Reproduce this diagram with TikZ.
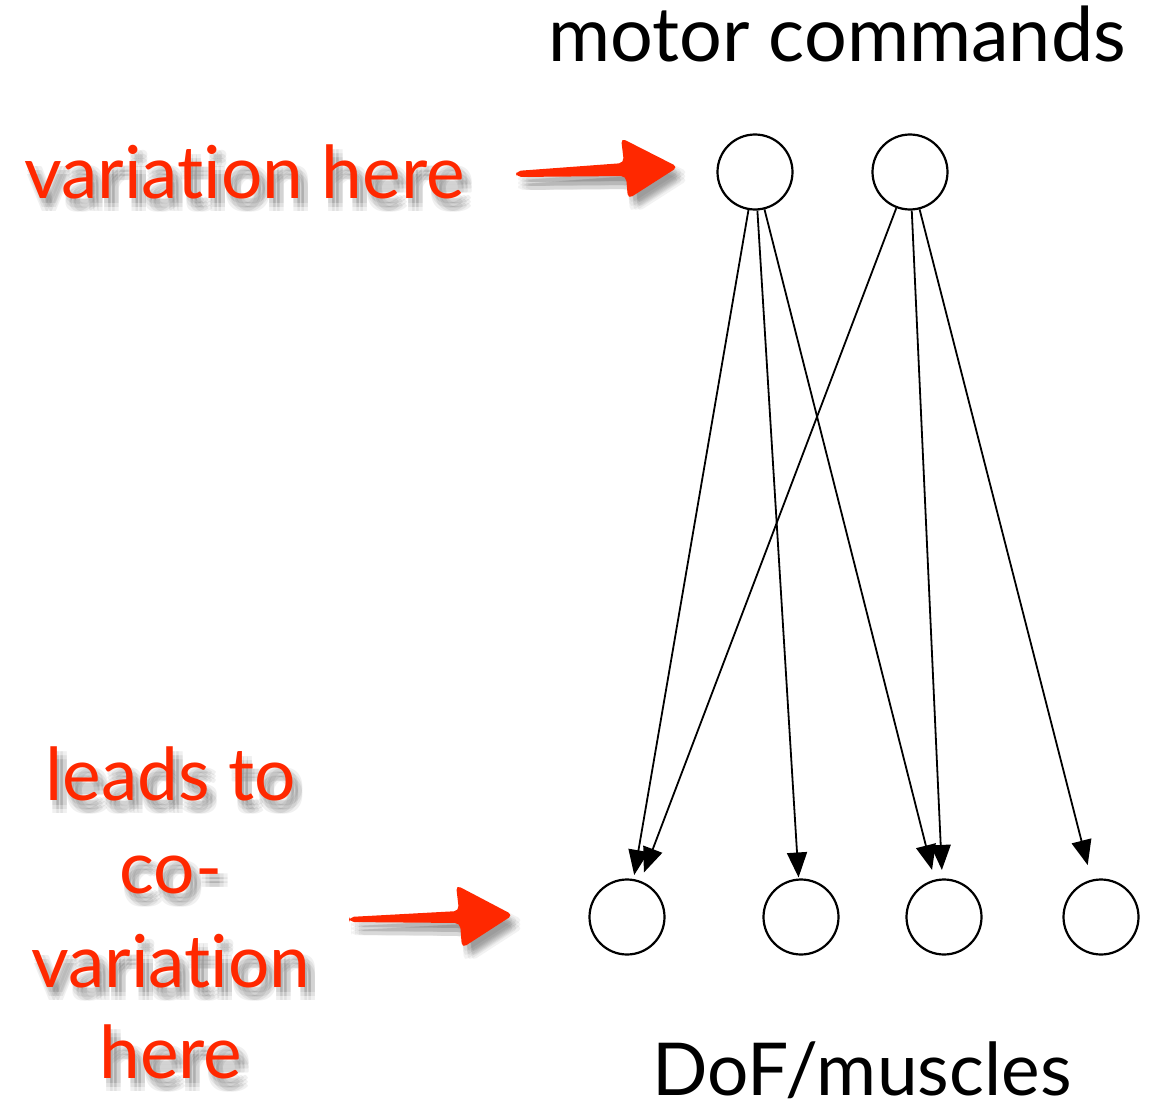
\documentclass[tikz,border=0pt]{standalone}
\usepackage{fontspec}
\setmainfont{Lato}[Ligatures=NoCommon]
\usetikzlibrary{arrows.meta,calc}
\definecolor{brushred}{RGB}{255,40,0}
\newcommand\shadowlabel[3]{%
  \foreach \dx in {2,6,10}{\foreach \dy in {5,9,13}{
    \node[shadowtxt] (#1-\dx-\dy) at ($(#2)+(\dx,\dy)$) {#3};}}
  \node[redtxt] (#1) at (#2) {#3};}
\begin{document}
\begin{tikzpicture}[x=1pt,y=-1pt,
  state/.style={circle,draw,line width=2.2pt,minimum size=75pt,inner sep=0pt},
  edge/.style={line width=1.8pt,-{Triangle[length=25pt,width=20pt]}},
  blacktxt/.style={font=\fontsize{73}{73}\selectfont,anchor=base,inner sep=0pt},
  redtxt/.style={blacktxt,text=brushred},
  shadowtxt/.style={blacktxt,text=black,text opacity=0.06},
  brush/.style={fill=brushred,rounded corners=5pt},
  brushshadow/.style={fill=black,fill opacity=0.05,rounded corners=5pt}]
\useasboundingbox (0,0) rectangle (1151,1105);
\fill[white] (0,0) rectangle (1151,1105);

% nodes
\node[state] (t1) at (755,172) {};
\node[state] (t2) at (910,172) {};
\node[state] (b1) at (627,917) {};
\node[state] (b2) at (801,917) {};
\node[state] (b3) at (944,917) {};
\node[state] (b4) at (1101,917) {};

% edges
\draw[edge,shorten >=4pt] (t1) -- (b1);
\draw[edge,shorten >=1pt] (t1) -- (b2);
\draw[edge,shorten >=10pt] (t1) -- (b3);
\draw[edge,shorten >=9pt] (t2) -- (b1);
\draw[edge,shorten >=8.5pt] (t2) -- (b3);
\draw[edge,shorten >=15pt] (t2) -- (b4);

% black labels
\node[blacktxt,font=\fontsize{75.5}{75.5}\selectfont] (mc) at (837,62) {motor commands};
\node[blacktxt,text depth=0pt] (dof) at (862,1095) {DoF/muscles};

% red labels with soft shadow
\shadowlabel{vh}{244.5,198}{variation here}
\shadowlabel{l1}{171,800}{leads to}
\shadowlabel{l2}{171,893}{co-}
\shadowlabel{l3}{171,987}{variation}
\shadowlabel{l4}{171,1078}{here}

% brush arrows with shadows
\foreach \dx in {2,6,10}{\foreach \dy in {5,9,13}{
  \begin{scope}[shift={(\dx,\dy)}]
    \path[brushshadow] (516,171) -- (624,163) -- (621,138) -- (678,167) -- (628,199) -- (626,176) -- (516,177) -- cycle;
    \path[brushshadow] (349,917) -- (459,911) -- (456,885) -- (513,915) -- (462,948) -- (460,923) -- (349,922) -- cycle;
  \end{scope}}}
\path[brush] (516,171) -- (624,163) -- (621,138) -- (678,167) -- (628,199) -- (626,176) -- (516,177) -- cycle;
\path[brush] (349,917) -- (459,911) -- (456,885) -- (513,915) -- (462,948) -- (460,923) -- (349,922) -- cycle;
\end{tikzpicture}
\end{document}
